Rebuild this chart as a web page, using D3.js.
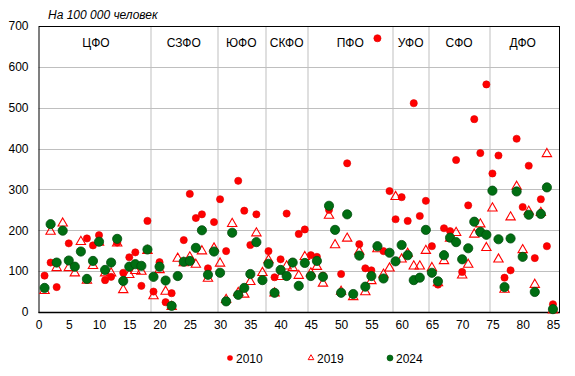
<!DOCTYPE html>
<html>
<head>
<meta charset="utf-8">
<script src="https://cdn.jsdelivr.net/npm/d3@7"></script>
<style>
  body { margin: 0; background: #fff; }
  svg text { font-family: "Liberation Sans", Arial, sans-serif; fill: #000; }
</style>
</head>
<body>
<div id="chart"></div>
<script>
// regions numbered 1..85, grouped by federal district
const districts = ["ЦФО", "СЗФО", "ЮФО", "СКФО", "ПФО", "УФО", "СФО", "ДФО"];
const districtSizes = [18, 11, 8, 7, 14, 6, 10, 11];

const years = ["2010", "2019", "2024"];

const v2010 = [89, 121, 61, 199, 168, 111, 148, 180, 163, 188, 78, 86, 170, 96, 134, 146, 64, 223,
  50, 122, 24, 46, 88, 176, 289, 230, 239, 107, 220,
  276, 149, 194, 321, 248, 164, 239, 78,
  149, 85, 129, 241, 122, 191, 202,
  139, 135, 89, 250, 201, 93, 364, 44, 166, 107, 102, 670, 149, 296,
  227, 281, 223, 511, 235, 272,
  161, 67, 205, 198, 372, 98, 261, 472, 389, 557,
  339, 383, 84, 102, 424, 257, 358, 132, 276, 161, 19];

const v2019 = [52, 197, 108, 217, 108, 95, 172, 77, 113, 170, 95, 95, 168, 54, 91, 101, 99, 150,
  39, 103, 50, 13, 131, 120, 134, 116, 149, 82, 156,
  119, 30, 216, 47, 43, 74, 193, 96,
  127, 46, 86, 112, 108, 89, 135,
  95, 111, 70, 236, 164, 50, 180, 37, 148, 49, 76, 154, 92, 107,
  282, 129, 143, 112, 112, 150,
  108, 71, 125, 180, 194, 90, 116, 190, 215, 157,
  254, 129, 55, 232, 307, 152, 246, 67, 243, 387, 4];

const v2024 = [59, 215, 121, 199, 126, 111, 148, 81, 125, 172, 103, 121, 179, 76, 111, 117, 113, 153,
  86, 111, 77, 15, 88, 123, 125, 157, 200, 91, 148,
  96, 26, 194, 42, 59, 93, 171, 78,
  118, 47, 103, 88, 121, 64, 120,
  88, 125, 86, 260, 201, 47, 239, 44, 138, 62, 88, 161, 82, 145,
  124, 164, 139, 78, 84, 201,
  96, 75, 139, 182, 171, 129, 156, 221, 196, 189,
  297, 178, 61, 180, 295, 135, 238, 49, 240, 305, 7];

const xTicks = d3.range(0, 86, 5);
const yTicks = d3.range(0, 701, 100);

const width = 575, height = 376;
const margin = { top: 26, right: 16, bottom: 64, left: 38.5 };
const innerW = width - margin.left - margin.right;
const innerH = height - margin.top - margin.bottom;

const svg = d3.select("#chart").append("svg")
  .attr("width", width)
  .attr("height", height);

const g = svg.append("g")
  .attr("transform", `translate(${margin.left}, ${margin.top})`);

const x = d3.scaleLinear().domain([0, 86]).range([0, innerW]);
const y = d3.scaleLinear().domain([0, 700]).range([innerH, 0]);

// horizontal grid
g.append("g")
  .selectAll("line")
  .data(yTicks.filter(d => d > 0 && d < 700))
  .join("line")
  .attr("x1", 0).attr("x2", innerW)
  .attr("y1", d => Math.round(y(d)) + 0.5).attr("y2", d => Math.round(y(d)) + 0.5)
  .attr("stroke", "#bfbfbf").attr("stroke-width", 1);

// district boundaries
const bounds = d3.cumsum(districtSizes);
g.append("g")
  .selectAll("line")
  .data(Array.from(bounds).slice(0, -1))
  .join("line")
  .attr("x1", d => Math.round(x(d + 0.5)) + 0.5).attr("x2", d => Math.round(x(d + 0.5)) + 0.5)
  .attr("y1", 0).attr("y2", innerH)
  .attr("stroke", "#bfbfbf").attr("stroke-width", 1);

// district labels centred in their span
g.append("g")
  .selectAll("text")
  .data(districts)
  .join("text")
  .attr("x", (d, i) => {
    const start = i === 0 ? 0.5 : bounds[i - 1] + 0.5;
    return x((start + bounds[i] + 0.5) / 2);
  })
  .attr("y", 21)
  .attr("text-anchor", "middle")
  .style("font-size", "12px")
  .text(d => d);

// frame
g.append("rect")
  .attr("x", 0.5).attr("y", 0.5)
  .attr("width", innerW).attr("height", innerH)
  .attr("fill", "none").attr("stroke", "#000").attr("stroke-width", 1);
g.append("line")
  .attr("x1", 0).attr("x2", innerW + 1)
  .attr("y1", innerH + 0.5).attr("y2", innerH + 0.5)
  .attr("stroke", "#000").attr("stroke-width", 1.5);

// axes labels (no tick marks)
const xAxis = g.append("g")
  .attr("transform", `translate(0, ${innerH})`)
  .call(d3.axisBottom(x).tickValues(xTicks).tickSize(0).tickPadding(8));
const yAxis = g.append("g")
  .call(d3.axisLeft(y).tickValues(yTicks).tickSize(0).tickPadding(10));
[xAxis, yAxis].forEach(a => {
  a.select(".domain").remove();
  a.selectAll("text")
    .style("font-family", '"Liberation Sans", Arial, sans-serif')
    .style("font-size", "12px")
    .attr("fill", "#000");
});

// title
svg.append("text")
  .attr("x", 48).attr("y", 19)
  .style("font-size", "12px")
  .style("font-style", "italic")
  .text("На 100 000 человек");

const idx = d3.range(1, 86);
const triangle = d3.symbol().type(d3.symbolTriangle).size(38);

// 2010
g.append("g")
  .selectAll("circle")
  .data(idx)
  .join("circle")
  .attr("cx", d => x(d))
  .attr("cy", d => y(v2010[d - 1]))
  .attr("r", 3.6)
  .attr("fill", "#ff0000")
  .attr("stroke", "#e00000")
  .attr("stroke-width", 0.6);

// 2019
g.append("g")
  .selectAll("path")
  .data(idx)
  .join("path")
  .attr("d", triangle)
  .attr("transform", d => `translate(${x(d)}, ${y(v2019[d - 1])})`)
  .attr("fill", "none")
  .attr("stroke", "#ff0000")
  .attr("stroke-width", 1.1);

// 2024
g.append("g")
  .selectAll("circle")
  .data(idx)
  .join("circle")
  .attr("cx", d => x(d))
  .attr("cy", d => y(v2024[d - 1]))
  .attr("r", 4.6)
  .attr("fill", "#006e12")
  .attr("stroke", "#004d0c")
  .attr("stroke-width", 0.8);

// legend
const legend = svg.append("g").attr("transform", "translate(0, 358)");
const legendX = [230, 311, 390];
years.forEach((yr, i) => {
  const lg = legend.append("g").attr("transform", `translate(${legendX[i]}, 0)`);
  if (i === 0) {
    lg.append("circle").attr("r", 2.8).attr("fill", "#ff0000");
  } else if (i === 1) {
    lg.append("path").attr("d", d3.symbol().type(d3.symbolTriangle).size(14))
      .attr("fill", "none").attr("stroke", "#ff0000").attr("stroke-width", 1);
  } else {
    lg.append("circle").attr("r", 3).attr("fill", "#006e12").attr("stroke", "#004d0c").attr("stroke-width", 0.6);
  }
  lg.append("text")
    .attr("x", 6).attr("y", 4.5)
    .style("font-size", "12px")
    .text(yr);
});
</script>
</body>
</html>
